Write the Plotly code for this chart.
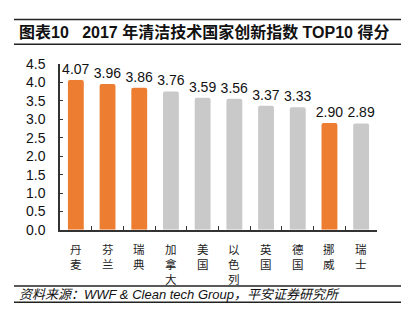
import plotly.graph_objects as go

countries = ["丹麦", "芬兰", "瑞典", "加拿大", "美国", "以色列", "英国", "德国", "挪威", "瑞士"]
scores = [4.07, 3.96, 3.86, 3.76, 3.59, 3.56, 3.37, 3.33, 2.90, 2.89]
highlight = [True, True, True, False, False, False, False, False, True, False]
value_labels = ["4.07", "3.96", "3.86", "3.76", "3.59", "3.56", "3.37", "3.33", "2.90", "2.89"]
y_ticks = [0.0, 0.5, 1.0, 1.5, 2.0, 2.5, 3.0, 3.5, 4.0, 4.5]

ORANGE = "#ED7D31"
GRAY = "#C9C9C9"
W, H = 401, 334
FONT = "Liberation Sans, Arial, Noto Sans CJK SC, sans-serif"

colors = [ORANGE if h else GRAY for h in highlight]

fig = go.Figure()
fig.add_trace(go.Bar(
    x=countries, y=scores, marker=dict(color=colors, line=dict(width=0), cornerradius=2),
    width=0.5, text=value_labels, textposition="outside", cliponaxis=False, constraintext="none",
    textfont=dict(size=14, color="#111111", family=FONT),
))

def px(x):
    return x / W

def py(y):
    return 1 - y / H

fig.update_layout(
    width=W, height=H, margin=dict(l=0, r=0, t=0, b=0),
    paper_bgcolor="white", plot_bgcolor="white", showlegend=False,
    font=dict(family=FONT, size=14, color="#111111"),
    xaxis=dict(
        domain=[px(60), px(377)], tickmode="array", tickvals=countries, showticklabels=False,
        tickson="boundaries", ticks="inside", ticklen=4, tickcolor="#333333",
        showline=True, linecolor="#333333", linewidth=1.5, showgrid=False,
    ),
    yaxis=dict(
        domain=[py(233), py(59)], range=[0, 4.5], tickmode="array", tickvals=y_ticks,
        ticktext=[f"{v:.1f}" for v in y_ticks], ticks="inside", ticklen=3, tickcolor="#333333",
        showline=True, linecolor="#333333", linewidth=1.5, showgrid=False, zeroline=False,
        tickfont=dict(size=14, family=FONT, color="#111111"), ticklabelstandoff=10,
    ),
)

# vertical (stacked) category labels, one text per category
for c in countries:
    fig.add_annotation(xref="x", yref="paper", x=c, y=py(244), text="<br>".join(list(c)),
                       showarrow=False, xanchor="center", yanchor="top", borderpad=0,
                       font=dict(size=11.5, family="Noto Sans CJK SC", color="#222222"))

shapes = []
for yy in [12, 38, 292, 309]:
    shapes.append(dict(type="line", xref="paper", yref="paper", x0=px(14), x1=1.0,
                       y0=py(yy), y1=py(yy), line=dict(color="#222222", width=1.5)))
fig.update_layout(shapes=shapes)

fig.add_annotation(xref="paper", yref="paper", x=px(17), y=py(25), xanchor="left", yanchor="middle",
                   text="<b>图表10   2017 年清洁技术国家创新指数 TOP10 得分</b>", showarrow=False,
                   font=dict(size=16, family="Liberation Sans, Noto Sans CJK SC", color="#111111"))
fig.add_annotation(xref="paper", yref="paper", x=px(17), y=py(300.5), xanchor="left", yanchor="middle",
                   text="<i>资料来源：WWF &amp; Clean tech Group，平安证券研究所</i>", showarrow=False,
                   font=dict(size=13, family="Liberation Sans, Noto Sans CJK SC", color="#111111"))

fig.write_html("out.html")
